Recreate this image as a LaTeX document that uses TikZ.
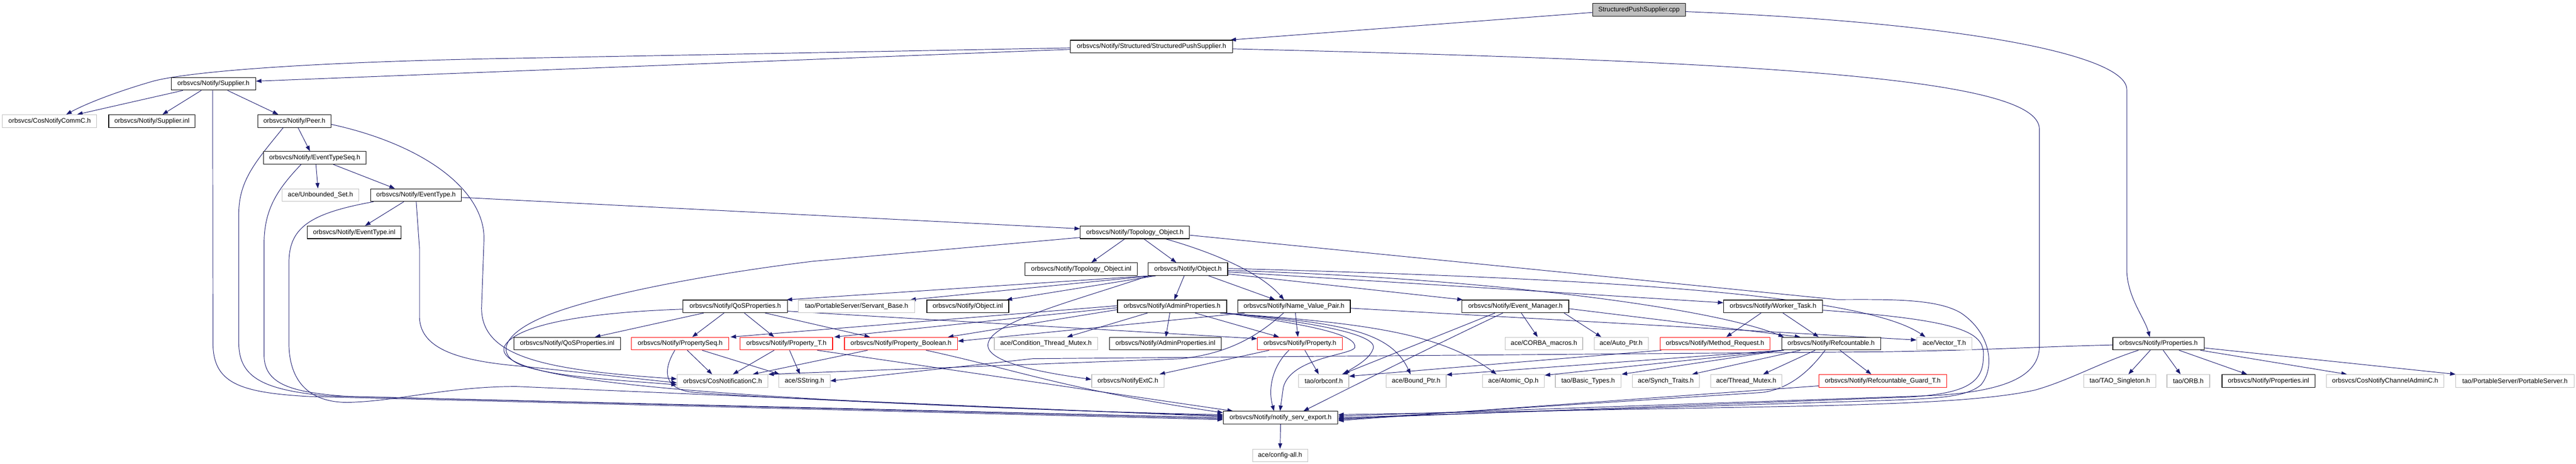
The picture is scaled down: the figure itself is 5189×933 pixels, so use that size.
\documentclass[tikz,border=0pt]{standalone}
\usepackage{fontspec}
\setmainfont{Liberation Sans}
\usetikzlibrary{arrows.meta,calc,backgrounds}
\definecolor{edgecol}{HTML}{191970}
\definecolor{grayb}{HTML}{BFBFBF}
\tikzset{
 nbase/.style={rectangle, draw, fill=white, line width=1.2pt, inner sep=0pt, minimum height=25.5pt, font=\fontsize{13.2}{15}\selectfont, text=black},
 blackbox/.style={nbase, draw=black},
 graybox/.style={nbase, draw=grayb},
 redbox/.style={nbase, draw=red},
 rootbox/.style={nbase, draw=black, fill=grayb},
 edg/.style={draw=edgecol, line width=1pt, -{Triangle[length=11pt,width=8pt]}},
}
\newcommand\nd[6][blackbox]{\node[#1, minimum width={(#4-#3)*1pt}] (#2) at ({(#3+#4)/2},{#5+12.75}) {#6};}
\begin{document}
\begin{tikzpicture}[x=1pt,y=-1pt]
\useasboundingbox (0,0) rectangle (5189,933);
% ---------- nodes ----------
\nd[rootbox]{root}{3208}{3395}{7}{StructuredPushSupplier.cpp}
\nd{spsh}{2156}{2483}{81}{orbsvcs/Notify/Structured/StructuredPushSupplier.h}
\nd{supplierh}{345}{515}{156}{orbsvcs/Notify/Supplier.h}
\nd[graybox]{cosnotifycommc}{5}{195}{231}{orbsvcs/CosNotifyCommC.h}
\nd{supplierinl}{219}{393}{231}{orbsvcs/Notify/Supplier.inl}
\nd{peerh}{519}{667}{231}{orbsvcs/Notify/Peer.h}
\nd{evtseq}{531}{737}{305}{orbsvcs/Notify/EventTypeSeq.h}
\nd[graybox]{unbset}{568}{723}{380}{ace/Unbounded\_Set.h}
\nd{evth}{747}{929}{380}{orbsvcs/Notify/EventType.h}
\nd{evtinl}{619}{808}{455}{orbsvcs/Notify/EventType.inl}
\nd{topoh}{2176}{2396}{455}{orbsvcs/Notify/Topology\_Object.h}
\nd{topoinl}{2065}{2291}{529}{orbsvcs/Notify/Topology\_Object.inl}
\nd{objh}{2313}{2473}{529}{orbsvcs/Notify/Object.h}
\nd{qosh}{1376}{1586}{604}{orbsvcs/Notify/QoSProperties.h}
\nd[graybox]{servant}{1608}{1843}{604}{tao/PortableServer/Servant\_Base.h}
\nd{objinl}{1867}{2032}{604}{orbsvcs/Notify/Object.inl}
\nd{adminh}{2251}{2471}{604}{orbsvcs/Notify/AdminProperties.h}
\nd{nvph}{2493}{2720}{604}{orbsvcs/Notify/Name\_Value\_Pair.h}
\nd{evmgr}{2945}{3160}{604}{orbsvcs/Notify/Event\_Manager.h}
\nd{worker}{3472}{3671}{604}{orbsvcs/Notify/Worker\_Task.h}
\nd{qosinl}{1035}{1250}{679}{orbsvcs/Notify/QoSProperties.inl}
\nd[redbox]{propseq}{1272}{1468}{679}{orbsvcs/Notify/PropertySeq.h}
\nd[redbox]{propt}{1491}{1677}{679}{orbsvcs/Notify/Property\_T.h}
\nd[redbox]{propbool}{1701}{1929}{679}{orbsvcs/Notify/Property\_Boolean.h}
\nd[graybox]{condmutex}{2003}{2211}{679}{ace/Condition\_Thread\_Mutex.h}
\nd{admininl}{2235}{2460}{679}{orbsvcs/Notify/AdminProperties.inl}
\nd[redbox]{propertyh}{2533}{2704}{679}{orbsvcs/Notify/Property.h}
\nd[graybox]{corbamacros}{3032}{3188}{679}{ace/CORBA\_macros.h}
\nd[graybox]{autoptr}{3211}{3320}{679}{ace/Auto\_Ptr.h}
\nd[redbox]{methodreq}{3344}{3565}{679}{orbsvcs/Notify/Method\_Request.h}
\nd{refc}{3589}{3788}{679}{orbsvcs/Notify/Refcountable.h}
\nd[graybox]{vectort}{3861}{3972}{679}{ace/Vector\_T.h}
\nd{propsh}{4256}{4440}{679}{orbsvcs/Notify/Properties.h}
\nd[graybox]{cosnotif}{1364}{1547}{754}{orbsvcs/CosNotificationC.h}
\nd[graybox]{sstring}{1569}{1672}{754}{ace/SString.h}
\nd[graybox]{notifyext}{2199}{2345}{754}{orbsvcs/NotifyExtC.h}
\nd[graybox]{orbconf}{2616}{2717}{754}{tao/orbconf.h}
\nd[graybox]{boundptr}{2792}{2913}{754}{ace/Bound\_Ptr.h}
\nd[graybox]{atomicop}{2986}{3111}{754}{ace/Atomic\_Op.h}
\nd[graybox]{basictypes}{3133}{3265}{754}{tao/Basic\_Types.h}
\nd[graybox]{synchtraits}{3288}{3423}{754}{ace/Synch\_Traits.h}
\nd[graybox]{threadmutex}{3446}{3589}{754}{ace/Thread\_Mutex.h}
\nd[redbox]{refguard}{3664}{3921}{754}{orbsvcs/Notify/Refcountable\_Guard\_T.h}
\nd[graybox]{taosingleton}{4197}{4343}{754}{tao/TAO\_Singleton.h}
\nd[graybox]{orbh}{4365}{4451}{754}{tao/ORB.h}
\nd{propsinl}{4476}{4663}{754}{orbsvcs/Notify/Properties.inl}
\nd[graybox]{chadmin}{4686}{4923}{754}{orbsvcs/CosNotifyChannelAdminC.h}
\nd[graybox]{portsrv}{4947}{5185}{754}{tao/PortableServer/PortableServer.h}
\nd{export}{2464}{2695}{828}{orbsvcs/Notify/notify\_serv\_export.h}
\nd[graybox]{configall}{2523}{2634}{904}{ace/config-all.h}
% ---------- edges ----------
\begin{pgfonlayer}{background}
\fill[white] (0,0) rectangle (5189,933);
% root
\draw[edg] ($(root.south west)+(0,-8)$) -- ($(spsh.north east)+(-5,0)$);
\draw[edg] ($(root.north east)+(0,17)$) .. controls (3950,45) and (4284,110) .. (4284,180) -- (4284,545) .. controls (4286,600) and (4320,640) .. ($(propsh.north west)+(75,0)$);
% StructuredPushSupplier.h
\draw[edg] ($(spsh.north west)+(0,16)$) -- (1000,118) .. controls (600,126) and (380,145) .. (310,163) .. controls (250,180) and (180,205) .. ($(cosnotifycommc.north west)+(129,0)$);
\draw[edg] ($(spsh.north west)+(0,19)$) -- ($(supplierh.north east)+(0,8)$);
\draw[edg] ($(spsh.north east)+(0,18)$) .. controls (3600,125) and (4108,160) .. (4108,260) -- (4108,700) .. controls (4105,765) and (4020,788) .. (3900,796) -- ($(export.east)+(0,-3)$);
% Supplier.h
\draw[edg] ($(supplierh.south west)+(24,0)$) -- ($(cosnotifycommc.north west)+(151,0)$);
\draw[edg] ($(supplierh.south west)+(61,0)$) -- ($(supplierinl.north west)+(109,0)$);
\draw[edg] ($(supplierh.south west)+(114,0)$) -- ($(peerh.north west)+(42,0)$);
\draw[edg] ($(supplierh.south west)+(84,0)$) -- (429,690) .. controls (429,770) and (480,790) .. (620,798) -- ($(export.west)+(0,4)$);
% Peer.h
\draw[edg] ($(peerh.south west)+(82,0)$) -- ($(evtseq.north west)+(94,0)$);
\draw[edg] ($(peerh.south west)+(52,0)$) .. controls (520,320) and (481,360) .. (481,430) -- (481,690) .. controls (481,760) and (530,785) .. (660,797) -- ($(export.west)+(0,2)$);
\draw[edg] ($(peerh.north east)+(0,20)$) .. controls (850,290) and (975,380) .. (975,480) -- (970,620) .. controls (970,720) and (1100,745) .. ($(cosnotif.west)+(0,-4)$);
% EventTypeSeq.h
\draw[edg] ($(evtseq.south west)+(106,0)$) -- ($(unbset.north west)+(73,0)$);
\draw[edg] ($(evtseq.south west)+(141,0)$) -- ($(evth.north west)+(49,0)$);
\draw[edg] ($(evtseq.south west)+(76,0)$) .. controls (560,380) and (532,420) .. (532,490) -- (532,715) .. controls (532,775) and (590,790) .. (700,798) -- (export.west);
% EventType.h
\draw[edg] ($(evth.south west)+(67,0)$) -- ($(evtinl.north west)+(117,0)$);
\draw[edg] ($(evth.north east)+(0,18)$) -- ($(topoh.north west)+(0,6)$);
\draw[edg] ($(evth.south west)+(6,0)$) .. controls (620,430) and (582,460) .. (582,530) -- (582,690) .. controls (582,765) and (620,810) .. (700,810) .. controls (800,808) and (900,778) .. (1040,778) -- ($(export.west)+(0,-2)$);
\draw[edg] ($(evth.south west)+(92,0)$) -- (845,500) -- (845,640) .. controls (848,705) and (930,728) .. (1060,738) -- ($(cosnotif.west)+(0,4)$);
% Topology_Object.h
\draw[edg] ($(topoh.south west)+(90,0)$) -- ($(topoinl.north west)+(134,0)$);
\draw[edg] ($(topoh.south west)+(129,0)$) -- ($(objh.north west)+(57,0)$);
\draw[edg] ($(topoh.south west)+(173,0)$) .. controls (2450,510) and (2540,550) .. ($(nvph.north west)+(94,0)$);
\draw[edg] ($(topoh.north east)+(0,19)$) -- (3700,603) .. controls (3800,603) and (3900,600) .. (3950,630) .. controls (4010,670) and (4020,740) .. (3990,775) .. controls (3960,800) and (3900,802) .. (3800,806) -- (export.east);
\draw[edg] ($(topoh.south west)+(0,-3)$) -- (1637,526) .. controls (1400,555) and (1180,600) .. (1090,640) .. controls (1010,675) and (1000,715) .. (1050,735) .. controls (1120,760) and (1250,765) .. ($(cosnotif.west)+(0,8)$);
% Object.h
\draw[edg] ($(objh.south west)+(4,0)$) -- ($(qosh.north east)+(-2,0)$);
\draw[edg] ($(objh.south west)+(10,0)$) -- ($(servant.north east)+(-10,0)$);
\draw[edg] ($(objh.south west)+(16,0)$) -- ($(objinl.north east)+(-5,0)$);
\draw[edg] ($(objh.south west)+(73,0)$) -- ($(adminh.north west)+(115,0)$);
\draw[edg] ($(objh.south west)+(122,0)$) -- ($(nvph.north west)+(76,0)$);
\draw[edg] ($(objh.north east)+(0,23)$) -- ($(evmgr.north west)+(2,0)$);
\draw[edg] ($(objh.north east)+(0,19)$) -- ($(worker.north west)+(0,6)$);
\draw[edg] ($(objh.north east)+(0,16)$) .. controls (3000,560) and (3450,620) .. ($(refc.north west)+(5,0)$);
\draw[edg] ($(objh.north east)+(0,12)$) .. controls (3200,560) and (3750,590) .. ($(vectort.north west)+(18,0)$);
\draw[edg] ($(objh.south west)+(2,0)$) .. controls (2150,610) and (1990,650) .. (1990,695) .. controls (1990,730) and (2100,750) .. ($(notifyext.west)+(0,-3)$);
% QoSProperties.h
\draw[edg] ($(qosh.south west)+(42,0)$) -- ($(qosinl.north west)+(164,0)$);
\draw[edg] ($(qosh.south west)+(83,0)$) -- ($(propseq.north west)+(123,0)$);
\draw[edg] ($(qosh.south west)+(124,0)$) -- ($(propt.north west)+(69,0)$);
\draw[edg] ($(qosh.south west)+(166,0)$) -- ($(propbool.north west)+(52,0)$);
\draw[edg] ($(qosh.north east)+(0,23)$) .. controls (1900,645) and (2300,668) .. ($(propertyh.west)+(0,-10)$);
\draw[edg] ($(qosh.north west)+(0,19)$) .. controls (1150,630) and (1030,660) .. (1015,700) .. controls (1005,760) and (1300,800) .. ($(export.west)+(0,-4)$);
% PropertySeq.h
\draw[edg] ($(propseq.south west)+(113,0)$) -- ($(cosnotif.north west)+(71,0)$);
\draw[edg] ($(propseq.south west)+(143,0)$) -- ($(sstring.north west)+(2,0)$);
\draw[edg] ($(propseq.south west)+(88,0)$) .. controls (1335,745) and (1335,785) .. (1400,790) .. controls (1600,805) and (2200,830) .. ($(export.west)+(0,-6)$);
% Property_T.h
\draw[edg] ($(propt.south west)+(69,0)$) -- ($(cosnotif.north west)+(113,0)$);
\draw[edg] ($(propt.south west)+(100,0)$) -- ($(sstring.north west)+(43,0)$);
\draw[edg] ($(propt.south west)+(156,0)$) -- ($(export.north west)+(20,0)$);
% Property_Boolean.h
\draw[edg] ($(propbool.south west)+(47,0)$) -- ($(cosnotif.north west)+(153,0)$);
\draw[edg] ($(propbool.south west)+(165,0)$) .. controls (2050,745) and (2150,785) .. ($(export.west)+(0,-10)$);
% AdminProperties.h
\draw[edg] ($(adminh.south west)+(61,0)$) -- ($(condmutex.north west)+(147,0)$);
\draw[edg] ($(adminh.south west)+(106,0)$) -- ($(admininl.north west)+(114,0)$);
\draw[edg] ($(adminh.south west)+(157,0)$) -- ($(propertyh.north west)+(44,0)$);
\draw[edg] ($(adminh.north west)+(0,12)$) -- ($(propseq.north east)+(3,0)$);
\draw[edg] ($(adminh.north west)+(0,16)$) -- ($(propt.north east)+(3,0)$);
\draw[edg] ($(adminh.north west)+(0,20)$) -- ($(propbool.north east)+(-20,0)$);
\draw[edg] ($(adminh.south east)+(-4,0)$) .. controls (2650,655) and (2735,675) .. (2729,700) .. controls (2720,715) and (2600,720) .. (2585,780) -- ($(export.north west)+(115,0)$);
\draw[edg] (adminh.south east) .. controls (2700,655) and (2775,680) .. (2766,702) .. controls (2758,725) and (2725,740) .. ($(orbconf.north east)+(-10,0)$);
\draw[edg] ($(adminh.south east)+(-10,0)$) .. controls (2700,650) and (2800,665) .. ($(boundptr.north west)+(50,0)$);
\draw[edg] ($(adminh.south east)+(-14,0)$) .. controls (2750,650) and (2900,670) .. ($(atomicop.north west)+(29,0)$);
% Name_Value_Pair.h
\draw[edg] ($(nvph.south west)+(117,0)$) -- ($(propertyh.north west)+(82,0)$);
\draw[edg] ($(nvph.south west)+(15,0)$) -- ($(propbool.east)+(0,-5)$);
\draw[edg] ($(nvph.south west)+(93,0)$) .. controls (2530,680) and (2470,712) .. (2380,722) -- (cosnotif.north east);
\draw[edg] ($(nvph.north east)+(0,17)$) -- ($(vectort.north west)+(0,6)$);
% Event_Manager.h
\draw[edg] ($(evmgr.south west)+(120,0)$) -- ($(corbamacros.north west)+(66,0)$);
\draw[edg] ($(evmgr.south east)+(-10,0)$) -- ($(autoptr.north west)+(15,0)$);
\draw[edg] ($(evmgr.south west)+(67,0)$) -- ($(orbconf.north east)+(-14,0)$);
\draw[edg] ($(evmgr.south west)+(83,0)$) .. controls (2900,690) and (2760,760) .. ($(export.north east)+(-70,0)$);
\draw[edg] ($(evmgr.north east)+(0,18)$) -- ($(refc.north west)+(38,0)$);
% Worker_Task.h
\draw[edg] ($(worker.south west)+(76,0)$) -- ($(methodreq.north west)+(134,0)$);
\draw[edg] ($(worker.south west)+(120,0)$) -- ($(refc.north west)+(75,0)$);
\draw[edg] ($(worker.north east)+(0,21)$) .. controls (3960,645) and (4000,670) .. (3995,720) .. controls (3995,775) and (3950,792) .. (3850,799) -- ($(export.east)+(0,2)$);
% Method_Request.h
\draw[edg] ($(methodreq.south west)+(3,0)$) -- ($(orbconf.north east)+(0,4)$);
% Refcountable.h
\draw[edg] (refc.south west) -- ($(boundptr.north east)+(0,1)$);
\draw[edg] ($(refc.south west)+(5,0)$) -- ($(atomicop.north east)+(0,2)$);
\draw[edg] ($(refc.south west)+(2,0)$) -- ($(basictypes.north east)+(1,0)$);
\draw[edg] ($(refc.south west)+(38,0)$) -- ($(synchtraits.north east)+(-15,0)$);
\draw[edg] ($(refc.south west)+(68,0)$) -- ($(threadmutex.north east)+(-38,0)$);
\draw[edg] ($(refc.south west)+(118,0)$) -- ($(refguard.north west)+(106,0)$);
\draw[edg] ($(refc.south west)+(88,0)$) .. controls (3650,740) and (3610,782) .. (3550,790) -- ($(export.east)+(0,4)$);
% Refcountable_Guard_T.h
\draw[edg] ($(refguard.west)+(0,10)$) -- ($(export.east)+(0,6)$);
% Property.h
\draw[edg] ($(propertyh.south west)+(24,0)$) -- ($(notifyext.north east)+(-10,0)$);
\draw[edg] ($(propertyh.south west)+(96,0)$) -- ($(orbconf.north west)+(41,0)$);
\draw[edg] ($(propertyh.south west)+(64,0)$) .. controls (2565,735) and (2553,780) .. ($(export.north west)+(103,0)$);
% Properties.h
\draw[edg] ($(propsh.south west)+(76,0)$) -- ($(taosingleton.north west)+(91,0)$);
\draw[edg] ($(propsh.south west)+(102,0)$) -- ($(orbh.north west)+(28,0)$);
\draw[edg] ($(propsh.south west)+(134,0)$) -- ($(propsinl.north west)+(51,0)$);
\draw[edg] ($(propsh.south east)+(-8,0)$) -- ($(chadmin.north west)+(42,0)$);
\draw[edg] ($(propsh.north east)+(0,22)$) -- (portsrv.north west);
\draw[edg] ($(propsh.south west)+(52,0)$) .. controls (4230,730) and (4170,765) .. (4100,785) .. controls (4000,808) and (3800,815) .. (3500,820) -- ($(export.east)+(0,-6)$);
\draw[edg] ($(propsh.north west)+(0,16)$) .. controls (4100,698) and (4000,705) .. (3800,708) -- (2080,722) -- (sstring.east);
% notify_serv_export.h
\draw[edg] (export.south) -- (configall.north);
\end{pgfonlayer}
\end{tikzpicture}
\end{document}
